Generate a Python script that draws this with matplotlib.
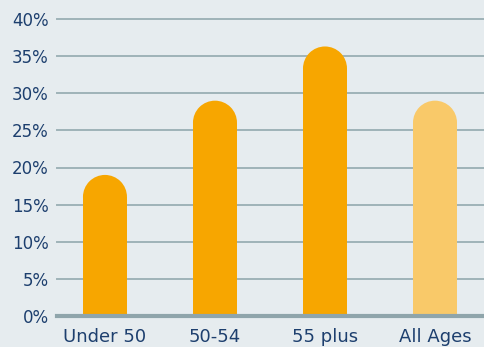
import matplotlib
matplotlib.use("Agg")
import matplotlib.pyplot as plt
from matplotlib.patches import Ellipse

categories = ["Under 50", "50-54", "55 plus", "All Ages"]
values = [19.0, 29.0, 36.3, 29.0]
colors = ["#f7a600", "#f7a600", "#f7a600", "#f9c969"]
yticks = [0, 5, 10, 15, 20, 25, 30, 35, 40]
ytick_labels = ["0%", "5%", "10%", "15%", "20%", "25%", "30%", "35%", "40%"]

W, H, DPI = 485, 347, 100
bg = "#e6ecef"
fig = plt.figure(figsize=(W / DPI, H / DPI), dpi=DPI, facecolor=bg)
left, right = 57 / W, 1.0
bottom, top = (H - 316) / H, (H - 19) / H
ax = fig.add_axes([left, bottom, right - left, top - bottom], facecolor=bg)

xs = list(range(len(categories)))
bar_w = 0.4
ax.set_xlim(-0.436, 3.4545)
ax.set_ylim(0, 40)

# radius of rounded cap in data units (semicircle of bar half-width in pixels)
ax_w_px = (right - left) * W
ax_h_px = (top - bottom) * H
px_per_x = ax_w_px / (3.4545 + 0.436)
px_per_y = ax_h_px / 40
r_px = bar_w / 2 * px_per_x
r_y = r_px / px_per_y

for x, v, c in zip(xs, values, colors):
    ax.bar(x, v - r_y, width=bar_w, color=c, zorder=3, linewidth=0)
    ax.add_patch(Ellipse((x, v - r_y), bar_w, 2 * r_y, color=c, zorder=3, linewidth=0))

for t in yticks[1:]:
    ax.axhline(t, color="#9fb3b8", lw=1.4, zorder=1, clip_on=False)
ax.axhline(0, color="#8fa5ab", lw=3.0, zorder=4, clip_on=False)

for s in ax.spines.values():
    s.set_visible(False)

txt = "#1d3f6e"
ax.set_yticks(yticks)
ax.set_yticklabels(ytick_labels, color=txt, fontsize=12, family="DejaVu Sans")
ax.set_xticks(xs)
ax.set_xticklabels(categories, color=txt, fontsize=13, family="DejaVu Sans")
ax.tick_params(axis="both", length=0)
ax.tick_params(axis="y", pad=6)
ax.tick_params(axis="x", pad=9)

fig.savefig("out.png", dpi=DPI, facecolor=bg)
